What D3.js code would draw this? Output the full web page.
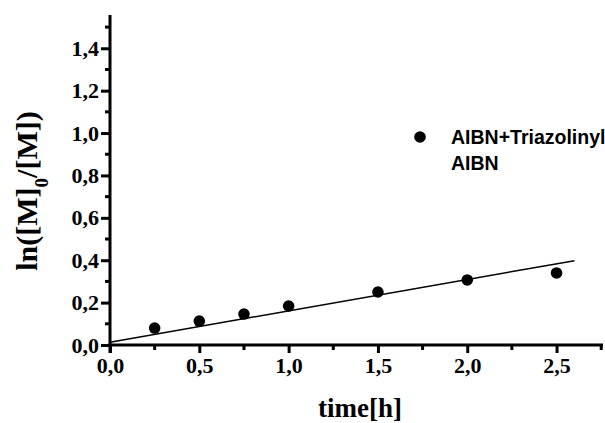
<!DOCTYPE html>
<html>
<head>
<meta charset="utf-8">
<script src="https://cdn.jsdelivr.net/npm/d3@7"></script>
<style>
  body { margin: 0; background: #fff; }
  svg { display: block; }
</style>
</head>
<body>
<div id="chart"></div>
<script>
// data
const times = [0.25, 0.5, 0.75, 1.0, 1.5, 2.0, 2.5];
const lnRatio = [0.080, 0.113, 0.146, 0.184, 0.250, 0.307, 0.340];
const fitX = [0, 2.6];
const fitY = [0.013, 0.398];
const xTicks = [0, 0.5, 1.0, 1.5, 2.0, 2.5];
const yTicks = [0, 0.2, 0.4, 0.6, 0.8, 1.0, 1.2, 1.4];
const legendLabels = ["AIBN+Triazolinyl", "AIBN"];

const width = 605;
const height = 423;
const padL = 110, padR = 603, padT = 15, padB = 345;
const serif = "'Liberation Serif', 'Times New Roman', serif";

const xScale = d3.scaleLinear().domain([0, 2.76]).range([padL, padR]);
const yScale = d3.scaleLinear().domain([0, 1.557]).range([padB, padT]);

const fmt = d => d3.format(".1f")(d).replace(".", ",");

const svg = d3.select("#chart")
              .append("svg")
              .attr("width", width)
              .attr("height", height);

// minor ticks
const xMinor = d3.range(0.25, 2.76, 0.5);
const yMinor = d3.range(0.1, 1.56, 0.2);

svg.append("g")
   .selectAll("line")
   .data(xMinor)
   .enter()
   .append("line")
   .attr("x1", d => xScale(d)).attr("x2", d => xScale(d))
   .attr("y1", padB).attr("y2", padB + 5)
   .attr("stroke", "#000").attr("stroke-width", 3);

svg.append("g")
   .selectAll("line")
   .data(yMinor)
   .enter()
   .append("line")
   .attr("x1", padL - 5).attr("x2", padL)
   .attr("y1", d => yScale(d)).attr("y2", d => yScale(d))
   .attr("stroke", "#000").attr("stroke-width", 3);

const xAxis = d3.axisBottom(xScale).tickValues(xTicks).tickFormat(fmt).tickSize(8).tickPadding(4);
const yAxis = d3.axisLeft(yScale).tickValues(yTicks).tickFormat(fmt).tickSize(9).tickPadding(2);

const gx = svg.append("g")
   .attr("id", "x-axis")
   .attr("transform", `translate(0,${padB})`)
   .call(xAxis);
gx.select(".domain").attr("stroke-width", 3).attr("d", `M${padL - 1.5},0H${padR}`);
gx.selectAll(".tick line").attr("stroke-width", 3);

const gy = svg.append("g")
   .attr("id", "y-axis")
   .attr("transform", `translate(${padL},0)`)
   .call(yAxis);
gy.select(".domain").attr("stroke-width", 3).attr("d", `M0,${padB + 8}V${padT}`);
gy.selectAll(".tick line").attr("stroke-width", 3);

svg.selectAll(".tick text")
   .style("font-family", serif)
   .style("font-weight", "bold")
   .style("font-size", "22px");

// fit line
svg.append("line")
   .attr("x1", xScale(fitX[0])).attr("y1", yScale(fitY[0]))
   .attr("x2", xScale(fitX[1])).attr("y2", yScale(fitY[1]))
   .attr("stroke", "#000").attr("stroke-width", 1.5);

// points
svg.selectAll("circle.pt")
   .data(times)
   .enter()
   .append("circle")
   .attr("class", "pt")
   .attr("cx", d => xScale(d))
   .attr("cy", (d, i) => yScale(lnRatio[i]))
   .attr("r", 5.8)
   .attr("fill", "#000");

// axis titles
svg.append("text")
   .attr("x", 360).attr("y", 417)
   .attr("text-anchor", "middle")
   .style("font-family", serif)
   .style("font-weight", "bold")
   .style("font-size", "27px")
   .text("time[h]");

const yt = svg.append("text")
   .attr("transform", "translate(37,191) rotate(-90)")
   .attr("text-anchor", "middle")
   .style("font-family", serif)
   .style("font-weight", "bold")
   .style("font-size", "30px");
yt.append("tspan").text("ln([M]");
yt.append("tspan").attr("baseline-shift", "sub").style("font-size", "19px").text("0");
yt.append("tspan").text("/[M])");

// legend
svg.append("circle")
   .attr("cx", 420).attr("cy", 137).attr("r", 5.8).attr("fill", "#000");
svg.selectAll("text.leg")
   .data(legendLabels)
   .enter()
   .append("text")
   .attr("class", "leg")
   .attr("x", 451)
   .attr("y", (d, i) => 143.5 + i * 26)
   .style("font-family", "'Liberation Sans', Arial, sans-serif")
   .style("font-weight", "bold")
   .style("font-size", "19.5px")
   .text(d => d);
</script>
</body>
</html>
